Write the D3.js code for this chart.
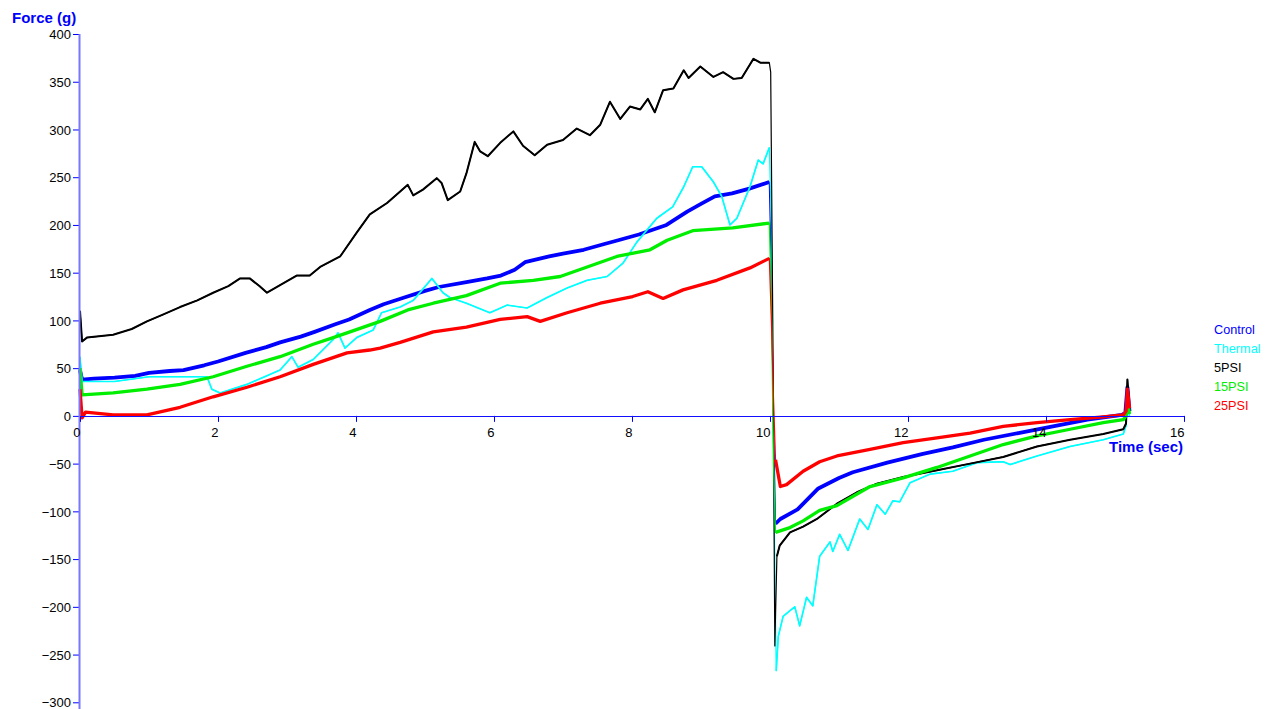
<!DOCTYPE html>
<html>
<head>
<meta charset="utf-8">
<script src="https://cdn.jsdelivr.net/npm/d3@7"></script>
<style>
  html, body { margin: 0; padding: 0; background: #fff; }
  svg { display: block; font-family: Arial, "Liberation Sans", sans-serif; }
</style>
</head>
<body>
<script>
(function() {
  'use strict';

  // readings: [time (sec), force (g)]
  const control = [[0,48],[0.03,38],[0.2,39],[0.5,40],[0.8,42],[1.0,45],[1.3,47],[1.5,48],[1.8,53],[2.0,57],
    [2.4,66],[2.7,72],[2.9,77],[3.2,83],[3.4,88],[3.7,96],[3.9,101],[4.2,111],[4.4,117],[4.7,124],[5.0,131],
    [5.2,135],[5.6,140],[5.9,144],[6.1,147],[6.3,153],[6.45,161],[6.8,167],[7.0,170],[7.3,174],[7.6,180],
    [7.8,184],[8.1,190],[8.5,200],[8.8,214],[9.0,222],[9.2,230],[9.45,233],[9.7,238],[9.99,245],[10.02,150],
    [10.05,0],[10.08,-113],[10.15,-108],[10.4,-98],[10.7,-76],[11.0,-65],[11.2,-59],[11.7,-49],[12.2,-40],
    [12.65,-33],[13.1,-25],[13.6,-18],[14.1,-11],[14.6,-4],[15.1,1],[15.15,3],[15.18,30],[15.21,5]];

  const thermal = [[0,62],[0.03,36],[0.5,36],[1.0,41],[1.45,41],[1.84,41],[1.91,28],[2.03,24],[2.42,33],
    [2.9,48],[3.07,62],[3.16,51],[3.38,59],[3.67,80],[3.74,87],[3.84,71],[4.01,82],[4.25,90],[4.37,108],
    [4.64,114],[4.83,121],[5.1,144],[5.26,129],[5.36,124],[5.6,118],[5.94,108],[6.19,116],[6.48,113],
    [6.77,124],[7.06,134],[7.35,142],[7.64,146],[7.87,160],[8.07,182],[8.22,195],[8.36,207],[8.59,219],
    [8.75,240],[8.88,261],[9.01,261],[9.18,245],[9.3,230],[9.42,200],[9.52,207],[9.71,240],[9.83,268],
    [9.9,264],[9.99,281],[10.02,200],[10.06,-100],[10.09,-267],[10.12,-231],[10.19,-210],[10.29,-204],
    [10.36,-200],[10.43,-220],[10.53,-190],[10.62,-199],[10.72,-147],[10.87,-132],[10.91,-142],[11.01,-124],
    [11.13,-141],[11.3,-108],[11.42,-119],[11.55,-93],[11.67,-103],[11.78,-89],[11.88,-90],[12.03,-70],
    [12.32,-61],[12.65,-58],[13.0,-49],[13.38,-48],[13.48,-51],[13.87,-42],[14.35,-32],[14.83,-25],
    [15.12,-19],[15.16,-10],[15.18,20],[15.21,0]];

  const psi5 = [[0,110],[0.03,78],[0.1,82],[0.48,85],[0.75,91],[0.97,99],[1.2,106],[1.45,114],[1.7,121],
    [1.93,129],[2.15,136],[2.32,144],[2.46,144],[2.6,136],[2.71,129],[2.9,137],[3.14,147],[3.33,147],
    [3.48,156],[3.77,167],[4.01,192],[4.2,211],[4.45,223],
    [4.64,235],[4.75,242],[4.83,231],[4.97,237],[5.17,249],[5.24,244],[5.33,226],[5.51,235],[5.6,254],
    [5.72,287],[5.8,277],[5.91,272],[6.09,286],[6.28,298],[6.42,283],[6.59,273],[6.77,284],[7.0,289],
    [7.2,301],[7.39,294],[7.54,305],[7.68,329],[7.83,311],[7.97,324],[8.12,321],[8.23,332],[8.33,318],
    [8.45,341],[8.6,343],[8.75,362],[8.82,354],[8.99,366],[9.18,355],[9.32,360],[9.47,353],[9.59,354],
    [9.76,374],[9.86,370],[9.99,370],[10.01,360],[10.04,100],[10.07,-241],[10.1,-147],[10.14,-136],
    [10.29,-122],[10.48,-116],[10.68,-108],[10.97,-92],[11.26,-80],[11.55,-71],[11.93,-64],[12.42,-57],
    [12.9,-50],[13.38,-43],[13.87,-32],[14.35,-25],[14.83,-19],[15.12,-14],[15.16,-8],[15.18,38],[15.21,5]];

  const psi15 = [[0,50],[0.03,22],[0.48,24],[0.97,28],[1.45,33],[1.93,41],[2.42,52],[2.9,62],[3.38,75],
    [3.67,82],[3.87,87],[4.35,99],[4.75,111],[5.12,118],[5.6,126],[6.09,139],[6.57,142],[6.96,146],
    [7.35,156],[7.78,167],[8.26,174],[8.51,184],[8.88,194],[9.46,197],[9.99,202],[10.02,120],[10.05,-50],
    [10.08,-122],[10.29,-117],[10.48,-110],[10.72,-99],[10.97,-94],[11.45,-74],[11.93,-65],[12.42,-54],
    [12.9,-42],[13.38,-30],[13.87,-21],[14.35,-14],[14.83,-7],[15.12,-4],[15.16,0],[15.18,15],[15.21,2]];

  const psi25 = [[0,28],[0.03,-2],[0.08,4],[0.48,1],[0.97,1],[1.45,9],[1.93,20],[2.42,30],[2.9,41],
    [3.38,54],[3.87,66],[4.2,69],[4.35,71],[4.64,77],[5.12,88],[5.6,93],[6.09,101],[6.48,104],[6.67,99],
    [7.06,108],[7.54,118],[8.01,125],[8.23,130],[8.45,123],[8.74,132],[9.23,142],[9.71,155],[9.99,165],
    [10.02,100],[10.05,20],[10.08,-46],[10.15,-74],[10.24,-72],[10.48,-58],[10.72,-48],[10.97,-42],
    [11.45,-35],[11.93,-28],[12.42,-23],[12.9,-18],[13.38,-11],[13.87,-7],[14.35,-4],[14.83,-1],
    [15.12,1],[15.16,5],[15.18,28],[15.21,8]];

  const seriesNames = ['Control', 'Thermal', '5PSI', '15PSI', '25PSI'];
  const seriesData = [control, thermal, psi5, psi15, psi25];
  const seriesColors = ['#0000ff', '#00ffff', '#000000', '#00ee00', '#ff0000'];
  // width of the noisy trace away from the sudden drop
  const bandWidths = [3.8, 1.6, 2, 3.3, 3.3];

  const xTicks = [0, 2, 4, 6, 8, 10, 12, 14, 16];
  const yTicks = [400, 350, 300, 250, 200, 150, 100, 50, 0, -50, -100, -150, -200, -250, -300];

  const w = 1270;
  const h = 709;

  const xScale = d3.scaleLinear().domain([0, 16]).range([80, 1184]);
  const yScale = d3.scaleLinear().domain([-300, 400]).range([702.3, 34]);

  const svg = d3.select('body')
    .append('svg')
    .attr('width', w)
    .attr('height', h);

  // curves: thin trace everywhere, wider band except across the release drop
  const line = d3.line()
    .x(d => xScale(d[0]))
    .y(d => yScale(d[1]));
  const band = d3.line()
    .defined(d => d[0] < 10.0 || d[0] > 10.07)
    .x(d => xScale(d[0]))
    .y(d => yScale(d[1]));

  const curves = svg.append('g')
    .selectAll('g')
    .data(seriesData)
    .join('g');
  curves.append('path')
    .attr('d', band)
    .attr('fill', 'none')
    .attr('stroke', (d, i) => seriesColors[i])
    .attr('stroke-width', (d, i) => bandWidths[i])
    .attr('stroke-linejoin', 'round');
  curves.append('path')
    .attr('d', line)
    .attr('fill', 'none')
    .attr('stroke', (d, i) => seriesColors[i])
    .attr('stroke-width', 1.2)
    .attr('stroke-linejoin', 'round');

  // y axis
  const yAxis = d3.axisLeft(yScale).tickValues(yTicks).tickSize(7).tickPadding(2);
  const gy = svg.append('g')
    .attr('transform', 'translate(80,0)')
    .call(yAxis);
  gy.select('.domain').remove();
  gy.selectAll('.tick line').attr('stroke', '#0000ff');
  gy.selectAll('.tick text')
    .attr('fill', '#000')
    .style('font-size', '13px')
    .attr('dy', '0.36em');
  svg.append('line')
    .attr('x1', 79.5).attr('x2', 79.5)
    .attr('y1', yScale(400)).attr('y2', h)
    .attr('stroke', '#7777ff')
    .attr('stroke-width', 2);

  // x axis across the zero line
  const xAxis = d3.axisBottom(xScale).tickValues(xTicks).tickSize(6);
  const gx = svg.append('g')
    .attr('transform', 'translate(0,' + yScale(0) + ')')
    .call(xAxis);
  gx.select('.domain').remove();
  gx.selectAll('.tick line').attr('stroke', '#0000ff');
  gx.selectAll('.tick text')
    .attr('fill', '#000')
    .style('font-size', '13px')
    .attr('text-anchor', 'end')
    .attr('x', 0)
    .attr('y', 21)
    .attr('dy', 0);
  svg.append('line')
    .attr('x1', 80).attr('x2', xScale(16))
    .attr('y1', Math.round(yScale(0)) + 0.5).attr('y2', Math.round(yScale(0)) + 0.5)
    .attr('stroke', '#1010ff')
    .attr('stroke-width', 1);

  // axis titles
  svg.append('text')
    .attr('x', 12).attr('y', 23)
    .attr('fill', '#0000ff')
    .style('font-size', '15px')
    .style('font-weight', 'bold')
    .text('Force (g)');
  svg.append('text')
    .attr('x', 1183).attr('y', 452)
    .attr('text-anchor', 'end')
    .attr('fill', '#0000ff')
    .style('font-size', '15px')
    .style('font-weight', 'bold')
    .text('Time (sec)');

  // legend
  svg.append('g')
    .selectAll('text')
    .data(seriesNames)
    .join('text')
    .attr('x', 1214)
    .attr('y', (d, i) => 334 + i * 19)
    .attr('fill', (d, i) => seriesColors[i])
    .style('font-size', '12.7px')
    .text(d => d);
}());
</script>
</body>
</html>
